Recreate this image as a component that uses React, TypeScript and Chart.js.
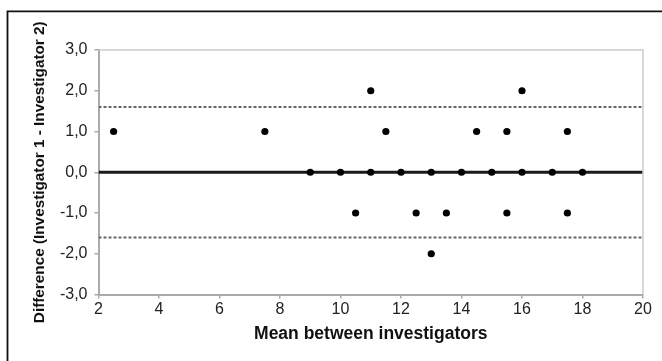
import React, { useEffect, useRef } from "react";
import { Chart, registerables } from "chart.js";

Chart.register(...registerables);

// Bland-Altman data: mean between investigators (x) and difference (y)
const meanValues = [2.5, 7.5, 9, 10, 10.5, 11, 11, 11.5, 12, 12.5, 13, 13, 13.5, 14, 14.5, 15, 15.5, 15.5, 16, 16, 17, 17.5, 17.5, 18];
const differences = [1, 1, 0, 0, -1, 2, 0, 1, 0, -1, 0, -2, -1, 0, 1, 0, 1, -1, 2, 0, 0, 1, -1, 0];
const bias = 0;
const upperLimit = 1.6;
const lowerLimit = -1.6;
const xRange = [2, 20];
const yRange = [-3, 3];
const xTitle = "Mean between investigators";
const yTitle = "Difference (Investigator 1 - Investigator 2)";

const W = 662;
const H = 361;

const framePlugin = {
  id: "frame",
  afterDraw(chart: any) {
    const { ctx, chartArea } = chart;
    ctx.save();
    // light plot border top/right
    ctx.strokeStyle = "#cccccc";
    ctx.lineWidth = 1.5;
    ctx.beginPath();
    ctx.moveTo(chartArea.left, chartArea.top);
    ctx.lineTo(chartArea.right, chartArea.top);
    ctx.lineTo(chartArea.right, chartArea.bottom);
    ctx.stroke();
    // outer figure frame (left and top visible)
    ctx.strokeStyle = "#111111";
    ctx.lineWidth = 1.8;
    ctx.beginPath();
    ctx.moveTo(7.5, H);
    ctx.lineTo(7.5, 11.3);
    ctx.lineTo(W, 11.3);
    ctx.stroke();
    ctx.restore();
  },
};

export default function App() {
  const ref = useRef<HTMLCanvasElement | null>(null);
  useEffect(() => {
    if (!ref.current) return;
    const points = meanValues.map((x, i) => ({ x, y: differences[i] }));
    const hline = (v: number) => [
      { x: xRange[0], y: v },
      { x: xRange[1], y: v },
    ];
    const chart = new Chart(ref.current, {
      type: "scatter",
      data: {
        datasets: [
          {
            label: "Differences",
            data: points,
            backgroundColor: "#000000",
            borderWidth: 0,
            pointRadius: 3.6,
            order: 0,
          },
          {
            type: "line",
            label: "Mean",
            data: hline(bias),
            borderColor: "#1a1a1a",
            borderWidth: 3,
            pointRadius: 0,
            order: 1,
          } as any,
          {
            type: "line",
            label: "Upper limit",
            data: hline(upperLimit),
            borderColor: "#666666",
            borderWidth: 2,
            borderDash: [3, 2],
            pointRadius: 0,
            order: 2,
          } as any,
          {
            type: "line",
            label: "Lower limit",
            data: hline(lowerLimit),
            borderColor: "#666666",
            borderWidth: 2,
            borderDash: [3, 2],
            pointRadius: 0,
            order: 2,
          } as any,
        ],
      },
      options: {
        responsive: false,
        animation: false,
        layout: { padding: { left: 0, top: 50, right: 19, bottom: 0 } },
        plugins: {
          legend: { display: false },
          tooltip: { enabled: false },
        },
        scales: {
          x: {
            type: "linear",
            min: xRange[0],
            max: xRange[1],
            afterFit: (s: any) => {
              s.height = 66.5;
            },
            ticks: {
              stepSize: 2,
              color: "#222222",
              font: { family: "'Liberation Sans', Arial, sans-serif", size: 16 },
              padding: 1,
            },
            grid: {
              drawOnChartArea: false,
              drawTicks: true,
              tickLength: 4,
              color: "#aaaaaa",
              lineWidth: 1.5,
            },
            border: { display: true, color: "#aaaaaa", width: 2 },
            title: {
              display: true,
              text: xTitle,
              color: "#111111",
              font: { family: "'Liberation Sans', Arial, sans-serif", size: 17.5, weight: "bold" },
              padding: { top: 0, bottom: 16 },
            },
          },
          y: {
            min: yRange[0],
            max: yRange[1],
            afterFit: (s: any) => {
              s.width = 98.5;
            },
            ticks: {
              stepSize: 1,
              color: "#222222",
              font: { family: "'Liberation Sans', Arial, sans-serif", size: 16 },
              padding: 7,
              callback: (v: any) => Number(v).toFixed(1).replace(".", ","),
            },
            grid: {
              drawOnChartArea: false,
              drawTicks: true,
              tickLength: 4,
              color: "#aaaaaa",
              lineWidth: 1.5,
            },
            border: { display: true, color: "#aaaaaa", width: 2 },
            title: {
              display: true,
              text: yTitle,
              color: "#111111",
              font: { family: "'Liberation Sans', Arial, sans-serif", size: 15.3, weight: "bold" },
              padding: { top: 31, bottom: 0 },
            },
          },
        },
      },
      plugins: [framePlugin],
    });
    return () => chart.destroy();
  }, []);
  return (
    <div style={{ position: "fixed", left: 0, top: 0, width: W, height: H, background: "#ffffff" }}>
      <canvas ref={ref} width={W} height={H} style={{ display: "block", width: W, height: H }} />
    </div>
  );
}
